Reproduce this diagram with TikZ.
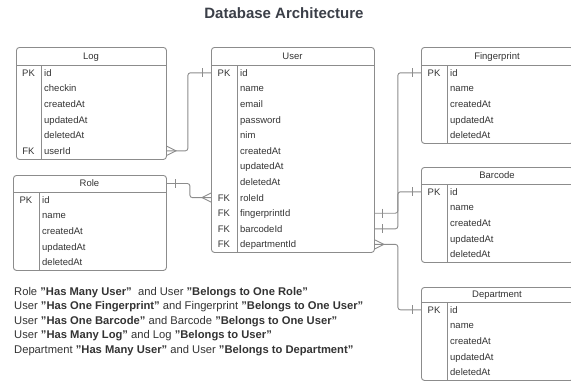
\documentclass[tikz,border=0pt]{standalone}
\usepackage{fontspec}
\setmainfont{Liberation Sans}
\definecolor{txt}{HTML}{333333}
\definecolor{brd}{HTML}{8C8C8C}
\definecolor{ttl}{HTML}{3B3F48}
\newcommand\ertable[9]{%
  % #1 name, #2 left, #3 top, #4 width, #5 height, #6 header height, #7 key column width, #8 title, #9 rows
  \node[tbl, minimum width=#4pt, minimum height=#5pt] (#1) at (#2,#3) {};
  \draw[tblline] (#2,#3+#6) -- (#2+#4,#3+#6);
  \draw[tblline] (#2+#7,#3+#6) -- (#2+#7,#3+#5);
  \node[cell, anchor=center] (#1-t) at (#2+#4/2,#3+#6/2) {#8};
  \foreach \k/\f [count=\i] in {#9} {
    \node[cell, anchor=center] (#1-k\i) at (#2+#7/2,#3+#6+7.8+15.6*\i-15.6) {\k};
    \node[cell, anchor=west] (#1-\i) at (#2+#7+3,#3+#6+7.8+15.6*\i-15.6) {\f};
  }%
}
\begin{document}
\begin{tikzpicture}[x=1pt,y=-1pt,
  tbl/.style={draw=brd, line width=0.9pt, rounded corners=3pt, inner sep=0pt, anchor=north west},
  tblline/.style={draw=brd, line width=0.9pt},
  cell/.style={inner sep=0pt, text=txt, font=\fontsize{9.5}{11}\selectfont, text height=6.8pt, text depth=0pt},
  conn/.style={draw=brd, line width=0.9pt, rounded corners=2.5pt},
  tick/.style={draw=brd, line width=0.9pt},
  note/.style={anchor=west, inner sep=0pt, text=txt, font=\fontsize{11.2}{13}\selectfont, text height=8pt, text depth=0pt}]
\useasboundingbox (0,0) rectangle (571,381);
\clip (0,0) rectangle (571,381);

\node[inner sep=0pt, text=ttl, font=\bfseries\fontsize{15}{18}\selectfont, text height=10.8pt, text depth=0pt] (title) at (284,13.5) {Database Architecture};

\ertable{log}{16}{47}{150}{112}{18}{25}{Log}{PK/id, /checkin, /createdAt, /updatedAt, /deletedAt, FK/userId}
\ertable{user}{211}{47}{163}{205}{18}{26}{User}{PK/id, /name, /email, /password, /nim, /createdAt, /updatedAt, /deletedAt, FK/roleId, FK/fingerprintId, FK/barcodeId, FK/departmentId}
\ertable{fingerprint}{421}{47}{152}{96}{18}{26}{Fingerprint}{PK/id, /name, /createdAt, /updatedAt, /deletedAt}
\ertable{barcode}{421}{167}{152}{95}{17}{26}{Barcode}{PK/id, /name, /createdAt, /updatedAt, /deletedAt}
\ertable{role}{13}{175}{153}{95}{17}{26}{Role}{PK/id, /name, /createdAt, /updatedAt, /deletedAt}
\ertable{department}{421}{287}{152}{93}{15}{26}{Department}{PK/id, /name, /createdAt, /updatedAt, /deletedAt}

% Log (many) -- User (one)
\draw[conn] (log.east |- log-6) -- ++(21,0) |- (user.west |- user-1);
\draw[tick] (log.east |- log-6) ++(0,-4.5) -- ++(9,4.5) -- ++(-9,4.5);
\draw[tick] (user.west |- user-1) ++(-9,-4.5) -- ++(0,9);
% Role (one) -- User (many)
\draw[conn] (role.east |- role-t) -- ++(23,0) |- (user.west |- user-9);
\draw[tick] (role.east |- role-t) ++(9,-4.5) -- ++(0,9);
\draw[tick] (user.west |- user-9) ++(0,-4.5) -- ++(-9,4.5) -- ++(9,4.5);
% User (one) -- Fingerprint (one)
\draw[conn] (user.east |- user-10) -- ++(23,0) |- (fingerprint.west |- fingerprint-1);
\draw[tick] (user.east |- user-10) ++(8,-4.5) -- ++(0,9);
\draw[tick] (fingerprint.west |- fingerprint-1) ++(-9,-4.5) -- ++(0,9);
% User (one) -- Barcode (one)
\draw[conn] (user.east |- user-11) -- ++(23,0) |- (barcode.west |- barcode-1);
\draw[tick] (user.east |- user-11) ++(8,-4.5) -- ++(0,9);
\draw[tick] (barcode.west |- barcode-1) ++(-9,-4.5) -- ++(0,9);
% User (many) -- Department (one)
\draw[conn] (user.east |- user-12) -- ++(23,0) |- (department.west |- department-1);
\draw[tick] (user.east |- user-12) ++(0,-4.5) -- ++(9,4.5) -- ++(-9,4.5);
\draw[tick] (department.west |- department-1) ++(-9,-4.5) -- ++(0,9);

\node[note] (n1) at (14,291) {Role \textbf{"Has Many User"}\ \ and User \textbf{"Belongs to One Role"}};
\node[note] (n2) at (14,305.5) {User \textbf{"Has One Fingerprint"} and Fingerprint \textbf{"Belongs to One User"}};
\node[note] (n3) at (14,320) {User \textbf{"Has One Barcode"} and Barcode \textbf{"Belongs to One User"}};
\node[note] (n4) at (14,334.5) {User \textbf{"Has Many Log"} and Log \textbf{"Belongs to User"}};
\node[note] (n5) at (14,349) {Department \textbf{"Has Many User"} and User \textbf{"Belongs to Department"}};
\end{tikzpicture}
\end{document}
